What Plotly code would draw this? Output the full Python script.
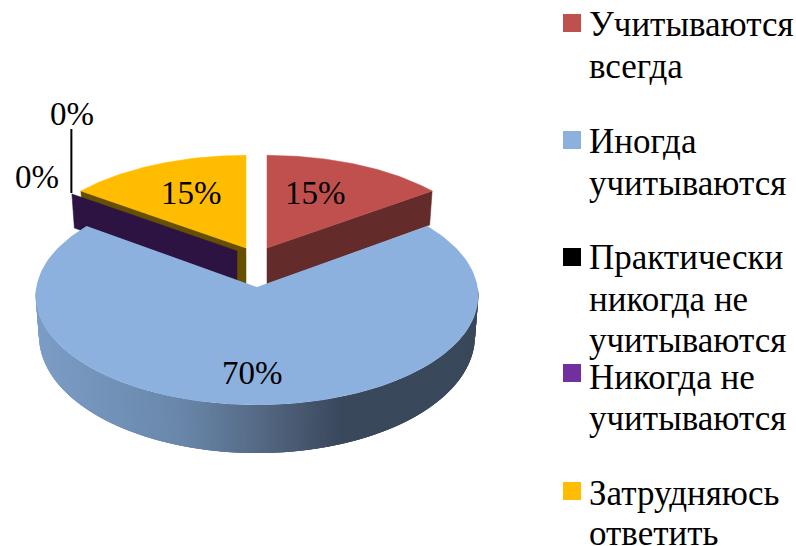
import math
import plotly.graph_objects as go

categories = ["Учитываются<br>всегда", "Иногда<br>учитываются", "Практически<br>никогда не<br>учитываются",
              "Никогда не<br>учитываются", "Затрудняюсь<br>ответить"]
values = [15, 70, 0, 0, 15]
labels = ["15%", "70%", "0%", "0%", "15%"]
colors = ["#C0504D", "#8CB1DE", "#000000", "#7030A0", "#FFBC00"]

FONT = "Liberation Serif"
CX, CY = 257, 287      # pie centre on the 796x546 canvas
EXPLODE = {0: (10, -39), 1: (0, 0), 3: (-20, -36), 4: (-11, -39)}
# ellipse parameters: the pulled-out slices sit further back, so they have their own
BACK = (218.5, 103.8, 0.12)
FRONT = (220.6, 108.6, 0.08)

def top(theta, off=(0, 0), geo=BACK):
    rx, ry, k = geo
    u, v = math.sin(theta), math.cos(theta)
    s = 1 / (1 + k * v)
    return CX + off[0] + rx * u * s, CY + off[1] - ry * v * s

def depth(theta):
    return 39.25 - 8.75 * math.cos(theta)

def bottom(theta, off=(0, 0), geo=BACK):
    x, y = top(theta, off, geo)
    cxo = CX + off[0]
    return cxo + (x - cxo) * 0.985, y + depth(theta)

def poly(pts, color, lw=0.5):
    xs = [p[0] for p in pts] + [pts[0][0]]
    ys = [p[1] for p in pts] + [pts[0][1]]
    return go.Scatter(x=xs, y=ys, mode="lines", fill="toself", fillcolor=color,
                      line=dict(color=color, width=lw), hoverinfo="skip", showlegend=False)

def arc(a, b, off=(0, 0), n=80, geo=BACK):
    return [top(a + (b - a) * i / n, off, geo) for i in range(n + 1)]

# cumulative angles from the values
total = sum(values)
bounds = [0]
for v in values:
    bounds.append(bounds[-1] + v / total * 2 * math.pi)

def side_color(x):
    stops = [(36, (124, 157, 199)), (180, (105, 135, 170)), (260, (85, 105, 132)), (340, (58, 72, 92)), (480, (58, 72, 92))]
    for (x0, c0), (x1, c1) in zip(stops, stops[1:]):
        if x <= x1:
            t = max(0, (x - x0) / (x1 - x0))
            return "rgb(%d,%d,%d)" % tuple(round(p + (q - p) * t) for p, q in zip(c0, c1))
    return "rgb(58,72,92)"

fig = go.Figure()

# yellow slice: cut face
a, b = bounds[4], bounds[5]
off = EXPLODE[4]
apex = (CX + off[0], CY + off[1])
fig.add_trace(poly([top(a, off), apex, (apex[0], apex[1] + 36), bottom(a, off)], "#665000"))

# purple zero-width slice: only its cut face shows
off = EXPLODE[3]
a = bounds[3]
apex = (CX + off[0], CY + off[1])
fig.add_trace(poly([top(a, off), apex, (apex[0], apex[1] + 34), bottom(a, off)], "#2D1342"))

# yellow top
a, b = bounds[4], bounds[5]
off = EXPLODE[4]
fig.add_trace(poly(arc(a, b, off) + [(CX + off[0], CY + off[1])], colors[4]))

# red slice
a, b = bounds[0], bounds[1]
off = EXPLODE[0]
apex = (CX + off[0], CY + off[1])
fig.add_trace(poly([top(b, off), apex, (apex[0], apex[1] + 36), bottom(b, off)], "#632B29"))
fig.add_trace(poly(arc(a, b, off) + [apex], colors[0]))

# blue slice: gradient wall (front half only), then top
a, b = max(bounds[1], math.pi / 2), min(bounds[2], 3 * math.pi / 2)
N = 220
for i in range(N):
    t0 = a + (b - a) * i / N
    t1 = a + (b - a) * min(N, i + 3) / N      # each strip overlaps the next to hide seams
    pm = top(a + (b - a) * (i + 0.5) / N, geo=FRONT)
    fig.add_trace(poly([top(t0, geo=FRONT), top(t1, geo=FRONT), bottom(t1, geo=FRONT), bottom(t0, geo=FRONT)],
                       side_color(pm[0]), lw=0))
a, b = bounds[1], bounds[2]
fig.add_trace(poly(arc(a, b, n=160, geo=FRONT) + [(CX, CY)], colors[1], lw=0))

# leader line of the black slice's label, rising from the slice corner
corner = top(bounds[3], EXPLODE[3])
fig.add_trace(go.Scatter(x=[corner[0] - 0.5, corner[0] - 0.5], y=[corner[1] - 1, corner[1] - 65], mode="lines",
                         line=dict(color="#000000", width=2), hoverinfo="skip", showlegend=False))

# legend swatches
legend_x = 572
legend_sw_y = [23, 140, 257, 373, 491]
legend_line_y = [[24, 66], [141, 183], [257, 299, 340], [377, 418], [493, 533]]
fig.add_trace(go.Scatter(x=[legend_x] * 5, y=legend_sw_y, mode="markers",
                         marker=dict(symbol="square", size=18, color=colors, line=dict(width=0)),
                         hoverinfo="skip", showlegend=False))

ann = []
for name, ys in zip(categories, legend_line_y):
    for line, y in zip(name.split("<br>"), ys):
        ann.append(dict(x=587, y=y, text=line, showarrow=False, xanchor="left", yanchor="middle", align="left",
                        font=dict(family=FONT, size=35, color="#000000")))
for text, (x, y) in zip(labels, [(315, 193), (252, 373), (72, 114), (37, 177), (191, 193)]):
    ann.append(dict(x=x, y=y, text=text, showarrow=False, xanchor="center", yanchor="middle",
                    font=dict(family=FONT, size=33, color="#000000")))

fig.update_layout(
    width=796, height=546, margin=dict(l=0, r=0, t=0, b=0), autosize=False,
    paper_bgcolor="#FFFFFF", plot_bgcolor="#FFFFFF", showlegend=False,
    xaxis=dict(range=[0, 796], visible=False, fixedrange=True),
    yaxis=dict(range=[546, 0], visible=False, fixedrange=True),
    annotations=ann,
)
fig.write_html("out.html", config=dict(displayModeBar=False),
               post_script="document.body.style.margin='0';document.body.style.overflow='hidden';")
